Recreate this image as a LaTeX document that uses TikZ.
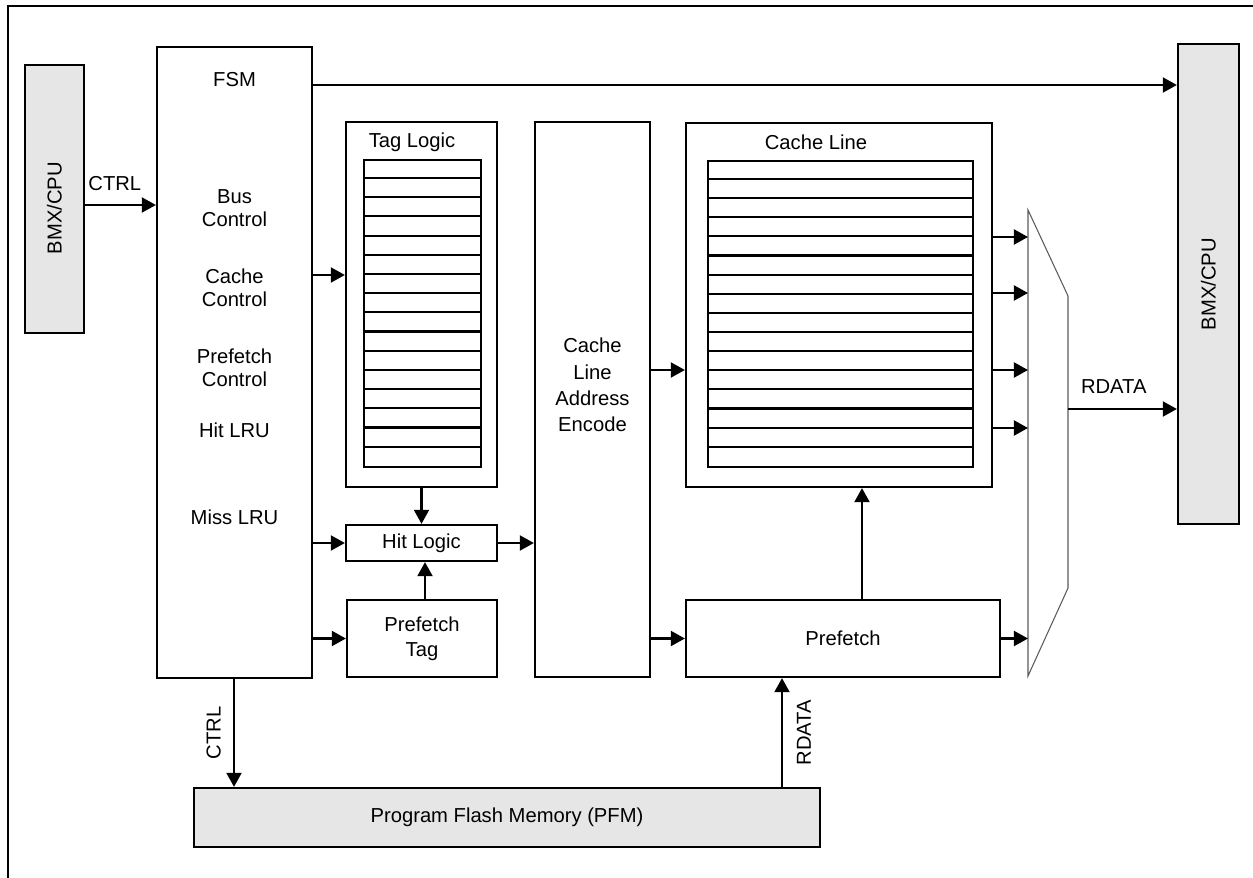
\documentclass[tikz,border=0pt]{standalone}
\usepackage{fontspec}
\setmainfont{Liberation Sans}
\usepackage{tikz}
\usetikzlibrary{arrows.meta}

\definecolor{boxgray}{RGB}{230,230,230}
\definecolor{muxgray}{RGB}{90,90,90}

\tikzset{
  block/.style={draw,rectangle,inner sep=0pt,line width=1.3pt},
  cpubox/.style={block,fill=boxgray},
  rowline/.style={-,line width=1.2pt},
}

\begin{document}
\begin{tikzpicture}[->,>={Triangle[length=8pt,width=8.5pt]},x=0.02cm,y=-0.02cm,line width=1.3pt,
        font=\fontsize{11.5}{13}\selectfont]

  \useasboundingbox (0,0) rectangle (1253,878);
  \draw[-] (1253,6) -- (8,6) -- (8,878);

  \node[cpubox,minimum width=1.18cm,minimum height=5.36cm] (cpul) at (54.5,199) {};
  \node[rotate=90] (cpultxt) at (54.5,208) {BMX/CPU};
  \node[cpubox,minimum width=1.22cm,minimum height=9.60cm] (cpur) at (1208.5,284) {};
  \node[rotate=90] (cpurtxt) at (cpur) {BMX/CPU};

  \node[block,minimum width=3.10cm,minimum height=12.62cm] (fsm) at (234.5,362.5) {};
  \node (fsmtxt) at (234.5,80) {FSM};
  \node[align=center] (busctl) at (234.5,208) {Bus\\Control};
  \node[align=center] (cachectl) at (234.5,288) {Cache\\Control};
  \node[align=center] (prefctl) at (234.5,368) {Prefetch\\Control};
  \node (hitlru) at (234.5,430) {Hit LRU};
  \node (misslru) at (234.5,517) {Miss LRU};

  \node[block,minimum width=3.02cm,minimum height=7.30cm] (tag) at (421.5,304.5) {};
  \node (tagtxt) at (412,142) {Tag Logic};
  \node[block,minimum width=2.34cm,minimum height=6.14cm] (tagtab) at (422.5,313.5) {};
  \foreach \i in {1,...,15}
    \draw[rowline] ([yshift=-\i*0.38375cm]tagtab.north west) -- ([yshift=-\i*0.38375cm]tagtab.north east);

  \node[block,minimum width=3.02cm,minimum height=0.72cm] (hit) at (421.5,543) {Hit Logic};
  \node[block,minimum width=3.00cm,minimum height=1.54cm,align=center,
        font=\fontsize{11.5}{14}\selectfont] (ptag) at (422,638.5) {Prefetch\\Tag};

  \node[block,minimum width=2.30cm,minimum height=11.10cm] (enc) at (592.5,399.5) {};
  \node[align=center,font=\fontsize{11.5}{15}\selectfont] (enctxt) at (592.5,385)
       {Cache\\Line\\Address\\Encode};

  \node[block,minimum width=6.12cm,minimum height=7.28cm] (cl) at (839,305) {};
  \node (cltxt) at (816,142) {Cache Line};
  \node[block,minimum width=5.30cm,minimum height=6.12cm] (cltab) at (840.5,314) {};
  \foreach \i in {1,...,15}
    \draw[rowline] ([yshift=-\i*0.3825cm]cltab.north west) -- ([yshift=-\i*0.3825cm]cltab.north east);

  \node[block,minimum width=6.28cm,minimum height=1.54cm] (pf) at (843,638.5) {Prefetch};

  \node[cpubox,minimum width=12.52cm,minimum height=1.18cm] (pfm) at (507,817.5)
       {Program Flash Memory (PFM)};

  \coordinate (muxtl) at (1028,210);
  \coordinate (muxtr) at (1068,296);
  \coordinate (muxbr) at (1068,588);
  \coordinate (muxbl) at (1028,676);
  \draw[-,line width=0.6pt,muxgray] (muxtl) -- (muxtr) -- (muxbr) -- (muxbl) -- cycle;

  \path (cpul.east |- 0,205) edge node[above=4pt,pos=0.42] (ctrlin) {CTRL} (fsm.west |- 0,205)
        (fsm.east |- 0,85) edge (cpur.west |- 0,85)
        (fsm.east |- 0,275) edge (tag.west |- 0,275)
        (fsm.east |- hit) edge (hit.west)
        (fsm.east |- ptag) edge (ptag.west)
        (tag.south) edge (hit.north)
        (ptag.north -| 425,0) edge (hit.south -| 425,0)
        (hit.east) edge (enc.west |- hit)
        (enc.east |- 0,370) edge (cl.west |- 0,370)
        (enc.east |- pf) edge (pf.west)
        (pf.north -| 862,0) edge (cl.south -| 862,0)
        (pf.east) edge (muxtl |- pf)
        (muxtr |- 0,409) edge node[above=5pt,pos=0.42] (rdataout) {RDATA} (cpur.west |- 0,409)
        (fsm.south -| 234,0) edge node[midway,rotate=90,anchor=south,yshift=3.5pt] (ctrlpfm) {CTRL} (pfm.north -| 234,0)
        (pfm.north -| 782,0) edge node[midway,rotate=90,anchor=north,yshift=-4.5pt] (rdatapfm) {RDATA} (pf.south -| 782,0);

  \foreach \y in {237,293,370,428}
    \draw (cl.east |- 0,\y) -- (muxtl |- 0,\y);

\end{tikzpicture}
\end{document}
